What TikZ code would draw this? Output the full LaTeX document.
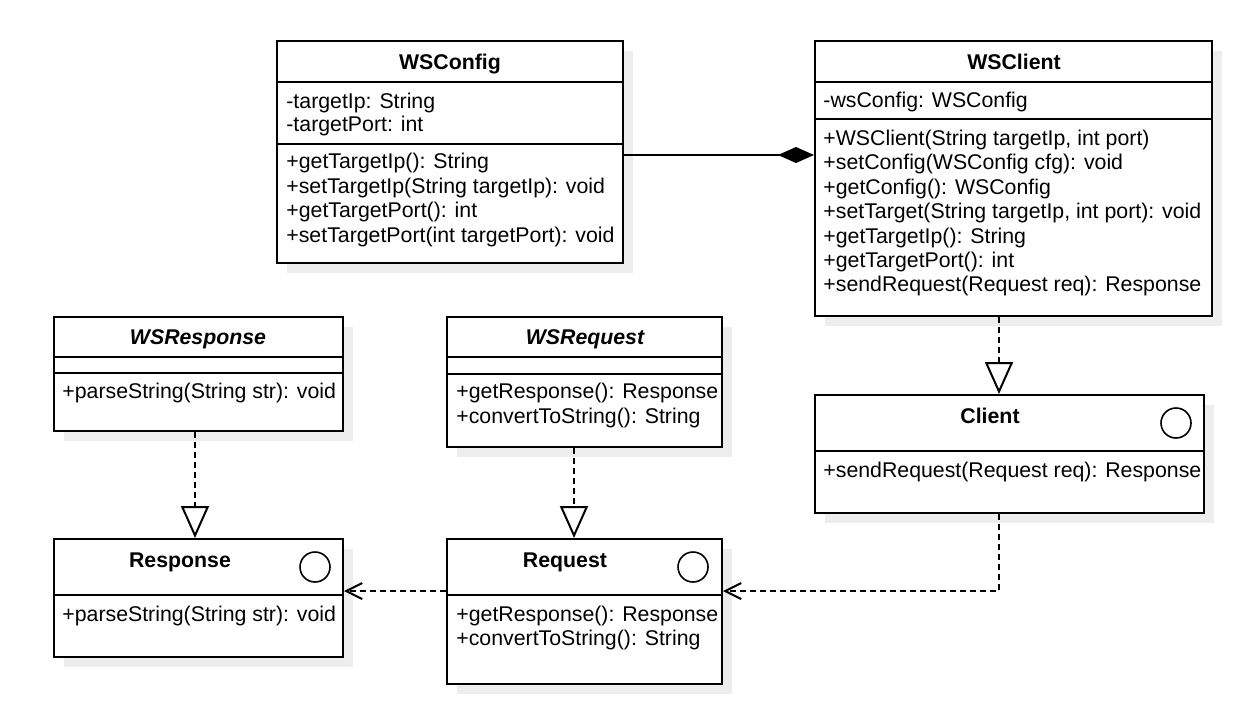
\documentclass[tikz,border=0pt]{standalone}
\usepackage{fontspec}
\setmainfont{Liberation Sans}
\usetikzlibrary{arrows.meta,fit}
\definecolor{shadowc}{HTML}{EDEDED}
\tikzset{
  title/.style={anchor=base,inner sep=0pt,font=\fontsize{10.65}{12}\selectfont\bfseries},
  atitle/.style={anchor=base,inner sep=0pt,font=\fontsize{10.65}{12}\selectfont\bfseries\itshape},
  mem/.style={anchor=base west,inner sep=0pt,font=\fontsize{10.65}{12}\selectfont},
  boxline/.style={line width=1pt},
  conn/.style={line width=1pt},
  dashconn/.style={line width=1pt,dash pattern=on 3pt off 2pt},
  realize/.style={dashconn,-{Triangle[open,length=16pt,width=14pt,line width=1pt]}},
  depend/.style={dashconn,-{Straight Barb[length=8pt,width=8pt,line width=1pt]}},
  compose/.style={conn,-{Diamond[length=18pt,width=8pt]}},
  iface/.style={circle,draw,line width=0.8pt,minimum size=15pt,inner sep=0pt}
}
\newcommand{\umlbox}[5]{%
  \fill[shadowc] (#2+10,#3+10) rectangle (#4+10,#5+10);
  \node[fit={(#2,#3) (#4,#5)},inner sep=0pt,draw,boxline,fill=white] (#1) {};
}
\begin{document}
\begin{tikzpicture}[x=0.5pt,y=-0.5pt]
\useasboundingbox (0,0) rectangle (1240,725);
\fill[white] (0,0) rectangle (1240,725);

% WSConfig
\umlbox{wsconfig}{277}{41}{623}{263}
\draw[boxline] (wsconfig.west |- 0,82) -- (wsconfig.east |- 0,82);
\draw[boxline] (wsconfig.west |- 0,144) -- (wsconfig.east |- 0,144);
\node[title] (wsconfigT) at (450,69) {WSConfig};
\node[mem] (wsconfigA1) at (286,108) {-targetIp: String};
\node[mem] (wsconfigA2) at (286,131) {-targetPort: int};
\node[mem] (wsconfigM1) at (286,168) {+getTargetIp(): String};
\node[mem] (wsconfigM2) at (286,193) {+setTargetIp(String targetIp): void};
\node[mem] (wsconfigM3) at (286,217) {+getTargetPort(): int};
\node[mem] (wsconfigM4) at (286,242) {+setTargetPort(int targetPort): void};

% WSClient
\umlbox{wsclient}{815}{41}{1212}{316}
\draw[boxline] (wsclient.west |- 0,82) -- (wsclient.east |- 0,82);
\draw[boxline] (wsclient.west |- 0,119) -- (wsclient.east |- 0,119);
\node[title] (wsclientT) at (1014,69) {WSClient};
\node[mem] (wsclientA1) at (823,107) {-wsConfig: WSConfig};
\node[mem] (wsclientM1) at (823,145) {+WSClient(String targetIp, int port)};
\node[mem] (wsclientM2) at (823,169.5) {+setConfig(WSConfig cfg): void};
\node[mem] (wsclientM3) at (823,194) {+getConfig(): WSConfig};
\node[mem] (wsclientM4) at (823,218.5) {+setTarget(String targetIp, int port): void};
\node[mem] (wsclientM5) at (823,243) {+getTargetIp(): String};
\node[mem] (wsclientM6) at (823,267) {+getTargetPort(): int};
\node[mem] (wsclientM7) at (823,291.5) {+sendRequest(Request req): Response};

% WSResponse
\umlbox{wsresponse}{54}{317}{343}{431}
\draw[boxline] (wsresponse.west |- 0,357) -- (wsresponse.east |- 0,357);
\draw[boxline] (wsresponse.west |- 0,373) -- (wsresponse.east |- 0,373);
\node[atitle] (wsresponseT) at (198,344) {WSResponse};
\node[mem] (wsresponseM1) at (62,398) {+parseString(String str): void};

% WSRequest
\umlbox{wsrequest}{447}{317}{722}{447}
\draw[boxline] (wsrequest.west |- 0,357) -- (wsrequest.east |- 0,357);
\draw[boxline] (wsrequest.west |- 0,374) -- (wsrequest.east |- 0,374);
\node[atitle] (wsrequestT) at (585,344) {WSRequest};
\node[mem] (wsrequestM1) at (456,398) {+getResponse(): Response};
\node[mem] (wsrequestM2) at (456,423) {+convertToString(): String};

% Client
\umlbox{client}{815}{395}{1204}{513}
\draw[boxline] (client.west |- 0,451) -- (client.east |- 0,451);
\node[title] (clientT) at (990,423) {Client};
\node[iface] (clientI) at (1176,423) {};
\node[mem] (clientM1) at (823,477) {+sendRequest(Request req): Response};

% Response
\umlbox{response}{54}{539}{343}{657}
\draw[boxline] (response.west |- 0,595) -- (response.east |- 0,595);
\node[title] (responseT) at (180,567) {Response};
\node[iface] (responseI) at (315,567) {};
\node[mem] (responseM1) at (62,621) {+parseString(String str): void};

% Request
\umlbox{request}{447}{539}{722}{684}
\draw[boxline] (request.west |- 0,595) -- (request.east |- 0,595);
\node[title] (requestT) at (565,567) {Request};
\node[iface] (requestI) at (693,567) {};
\node[mem] (requestM1) at (456,621) {+getResponse(): Response};
\node[mem] (requestM2) at (456,645) {+convertToString(): String};

% connectors
\draw[compose] (wsconfig.east |- 0,155) -- (wsclient.west |- 0,155);
\draw[realize] (wsclient.south -| 999,0) -- (client.north -| 999,0);
\draw[realize] (wsresponse.south -| 195,0) -- (response.north -| 195,0);
\draw[realize] (wsrequest.south -| 574,0) -- (request.north -| 574,0);
\draw[depend] (client.south -| 999,0) |- (request.east |- 0,591);
\draw[depend] (request.west |- 0,591) -- (response.east |- 0,591);
\end{tikzpicture}
\end{document}
